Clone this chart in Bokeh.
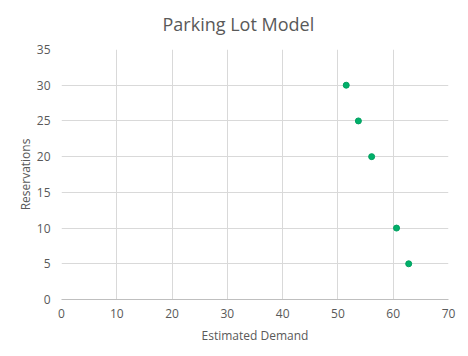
from bokeh.plotting import figure
from bokeh.embed import file_html
from bokeh.resources import INLINE
from bokeh.models import FixedTicker, Title

demand = [51.5, 53.7, 56.1, 60.6, 62.8]
reservations = [30, 25, 20, 10, 5]
x_ticks = [0, 10, 20, 30, 40, 50, 60, 70]
y_ticks = [0, 5, 10, 15, 20, 25, 30, 35]

FONT = "Open Sans"
GRAY = "#595959"

p = figure(width=468, height=356, output_backend="svg", toolbar_location=None,
           x_range=(0, 70), y_range=(0, 35),
           min_border_left=61, min_border_right=20, min_border_top=49, min_border_bottom=57)
p.title = Title(text="Parking Lot Model", align="left", text_font=FONT,
                text_font_size="18px", text_color=GRAY, text_font_style="normal",
                standoff=23, vertical_align="top", offset=101)
p.scatter(demand, reservations, size=6, color="#00B06A", line_color="#00A060")

p.xaxis.ticker = FixedTicker(ticks=x_ticks)
p.yaxis.ticker = FixedTicker(ticks=y_ticks)
p.xaxis.axis_label = "Estimated Demand"
p.yaxis.axis_label = "Reservations"
for ax in (p.xaxis[0], p.yaxis[0]):
    ax.axis_label_text_font = FONT
    ax.axis_label_text_font_size = "12px"
    ax.axis_label_text_color = GRAY
    ax.axis_label_text_font_style = "normal"
    ax.major_label_text_font = FONT
    ax.major_label_text_font_size = "12px"
    ax.major_label_text_color = GRAY
    ax.major_tick_line_color = None
    ax.minor_tick_line_color = None
    ax.major_tick_out = 0
    ax.major_tick_in = 0
p.xaxis.major_label_standoff = 9
p.xaxis.axis_label_standoff = 6
p.yaxis.major_label_standoff = 11
p.yaxis.axis_label_standoff = 0
p.xaxis.axis_line_color = "#BFBFBF"
p.yaxis.axis_line_color = None
p.xgrid.grid_line_color = "#D9D9D9"
p.ygrid.grid_line_color = "#D9D9D9"
p.outline_line_color = None
p.background_fill_color = "white"
p.border_fill_color = "white"

open("out.html", "w").write(file_html(p, INLINE))
